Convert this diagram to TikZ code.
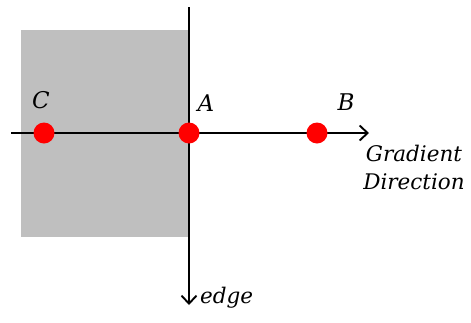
\documentclass[tikz,border=0pt]{standalone}
\usepackage{fontspec}
\setmainfont{DejaVu Serif}
\usetikzlibrary{arrows.meta}
\tikzset{
  axis/.style={line width=1.9pt, -{Straight Barb[length=8pt,width=15pt,line width=1.9pt]}},
  dot/.style={circle, fill=red, minimum size=21pt, inner sep=0pt},
  lbl/.style={font=\fontsize{23}{24}\selectfont\itshape, inner sep=0pt},
  itlbl/.style={font=\fontsize{21.5}{28}\selectfont\itshape, inner sep=0pt, align=center}
}
\begin{document}
\begin{tikzpicture}[x=1pt,y=-1pt]
\useasboundingbox (0,0) rectangle (471,322);
\fill[gray!50] (21,30) rectangle (189,237);
\coordinate (vtop) at (189,7);
\coordinate (vbot) at (189,305);
\coordinate (hl) at (11,133);
\coordinate (hr) at (369,133);
\draw[axis] (vtop) -- (vbot);
\draw[axis] (hl) -- (hr);
\node[dot] (C) at (44,133) {};
\node[dot] (A) at (189,133) {};
\node[dot] (B) at (317,133) {};
\node[lbl] (lC) at (41,100) {C};
\node[lbl] (lA) at (206,103) {A};
\node[lbl] (lB) at (346,102) {B};
\node[itlbl] (gd) at (414,167) {Gradient\\Direction};
\node[itlbl, anchor=west] (ed) at (200,298) {edge};
\end{tikzpicture}
\end{document}
